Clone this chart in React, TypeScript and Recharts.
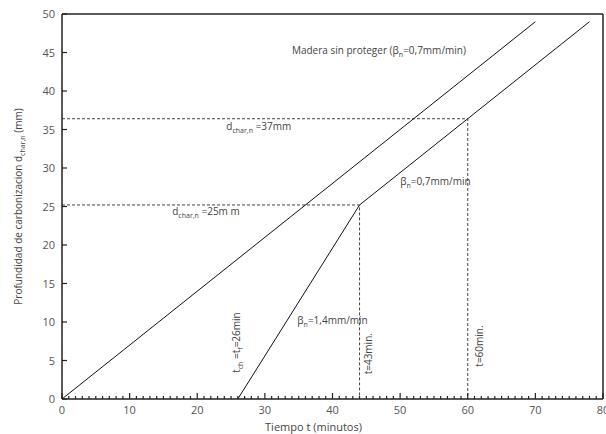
import React from 'react';
import { LineChart, Line, XAxis, YAxis, ReferenceLine, ReferenceDot } from 'recharts';

// charring depth (mm) vs time (min)
const unprotectedWood = [
  { t: 0, d: 0 },
  { t: 70, d: 49 },
];
const protectedWood = [
  { t: 26, d: 0 },
  { t: 44, d: 25.2 },
  { t: 78, d: 49 },
];
const guide25 = [
  { t: 0, d: 25.2 },
  { t: 44, d: 25.2 },
  { t: 44, d: 0 },
];
const guide37 = [
  { t: 0, d: 36.4 },
  { t: 60, d: 36.4 },
  { t: 60, d: 0 },
];

const xMajorTicks = [0, 10, 20, 30, 40, 50, 60, 70, 80];
const xMinorTicks = Array.from({ length: 81 }, (_, i) => i);
const yTicks = [0, 5, 10, 15, 20, 25, 30, 35, 40, 45, 50];

const FONT = '"Open Sans", sans-serif';
const TEXT = '#444';
const AXIS = '#222';

function XTick(props: any) {
  const { x, y, payload } = props;
  const major = xMajorTicks.includes(payload.value);
  return (
    <g>
      <line x1={x} x2={x} y1={y} y2={y - (major ? 6 : 3)} stroke={AXIS} strokeWidth={1.2} />
      {major && (
        <text x={x} y={y + 15} textAnchor="middle" fontFamily={FONT} fontSize={11} fill="#555">
          {payload.value}
        </text>
      )}
    </g>
  );
}

function YTick(props: any) {
  const { x, y, payload } = props;
  return (
    <g>
      <line x1={x} x2={x + 5} y1={y} y2={y} stroke={AXIS} strokeWidth={1.2} />
      <text x={x - 7} y={y + 4} textAnchor="end" fontFamily={FONT} fontSize={11} fill="#555">
        {payload.value}
      </text>
    </g>
  );
}

const sub = (s: string) => [
  <tspan key="a" dy={3} fontSize={7}>{s}</tspan>,
  <tspan key="b" dy={-3}>{' '}</tspan>,
];

const note = (content: React.ReactNode, rotate = false) => (p: any) => {
  const { x, y } = p.viewBox;
  return (
    <text
      x={x}
      y={y}
      fontFamily={FONT}
      fontSize={10}
      fill={TEXT}
      transform={rotate ? `rotate(-90 ${x} ${y})` : undefined}
    >
      {content}
    </text>
  );
};

const notes = [
  {
    t: 34, d: 44.8,
    content: (
      <>
        <tspan>Madera sin proteger (β</tspan>
        <tspan dy={3} fontSize={7}>n</tspan>
        <tspan dy={-3}>=0,7mm/min)</tspan>
      </>
    ),
  },
  {
    t: 24.3, d: 34.9,
    content: (
      <>
        <tspan>d</tspan>
        <tspan dy={3} fontSize={7}>char,n</tspan>
        <tspan dy={-3}>{'  =37mm'}</tspan>
      </>
    ),
  },
  {
    t: 16.3, d: 23.9,
    content: (
      <>
        <tspan>d</tspan>
        <tspan dy={3} fontSize={7}>char,n</tspan>
        <tspan dy={-3}>{'  =25m m'}</tspan>
      </>
    ),
  },
  {
    t: 50, d: 27.8,
    content: (
      <>
        <tspan>β</tspan>
        <tspan dy={3} fontSize={7}>n</tspan>
        <tspan dy={-3}>=0,7mm/min</tspan>
      </>
    ),
  },
  {
    t: 34.8, d: 9.7,
    content: (
      <>
        <tspan>β</tspan>
        <tspan dy={3} fontSize={7}>n</tspan>
        <tspan dy={-3}>=1,4mm/min</tspan>
      </>
    ),
  },
  {
    t: 26.3, d: 3.4, rotate: true,
    content: (
      <>
        <tspan>t</tspan>
        <tspan dy={3} fontSize={7}>ch</tspan>
        <tspan dy={-3}>{' =t'}</tspan>
        <tspan dy={3} fontSize={7}>f</tspan>
        <tspan dy={-3}>=26min</tspan>
      </>
    ),
  },
  { t: 45.9, d: 3.2, rotate: true, content: 't=43min.' },
  { t: 62.3, d: 4.2, rotate: true, content: 't=60min.' },
];

export default function App() {
  return (
    <div style={{ position: 'absolute', left: 0, top: 0 }}>
      <LineChart width={606} height={434} margin={{ top: 14, right: 3, left: 12, bottom: 0 }}>
        <XAxis
          dataKey="t"
          type="number"
          domain={[0, 80]}
          ticks={xMinorTicks}
          interval={0}
          tick={(p: any) => <XTick {...p} />}
          tickLine={false}
          tickSize={0}
          tickMargin={0}
          height={35}
          axisLine={{ stroke: AXIS, strokeWidth: 1.5 }}
          allowDataOverflow
          label={(p: any) => {
            const vb = p.viewBox;
            return (
              <text x={vb.x + vb.width / 2 - 19} y={vb.y + 32} textAnchor="middle" fontFamily={FONT} fontSize={11} fill={TEXT}>
                Tiempo t (minutos)
              </text>
            );
          }}
        />
        <YAxis
          dataKey="d"
          type="number"
          domain={[0, 50]}
          ticks={yTicks}
          interval={0}
          tick={(p: any) => <YTick {...p} />}
          tickLine={false}
          tickSize={0}
          tickMargin={0}
          width={50}
          axisLine={{ stroke: AXIS, strokeWidth: 1.5 }}
          allowDataOverflow
          label={(p: any) => {
            const vb = p.viewBox;
            const x = vb.x + 10;
            const y = vb.y + vb.height / 2;
            return (
              <text x={x} y={y} textAnchor="middle" transform={`rotate(-90 ${x} ${y})`} fontFamily={FONT} fontSize={10} fill={TEXT}>
                <tspan>Profundidad de carbonizacion d</tspan>
                <tspan dy={3} fontSize={7}>char,n</tspan>
                <tspan dy={-3}> (mm)</tspan>
              </text>
            );
          }}
        />
        <ReferenceLine y={50} stroke={AXIS} strokeWidth={1.5} />
        <ReferenceLine x={80} stroke={AXIS} strokeWidth={1.5} />
        <Line data={guide25} dataKey="d" type="linear" stroke="#444" strokeWidth={1} strokeDasharray="3 2" dot={false} isAnimationActive={false} />
        <Line data={guide37} dataKey="d" type="linear" stroke="#444" strokeWidth={1} strokeDasharray="3 2" dot={false} isAnimationActive={false} />
        <Line data={unprotectedWood} dataKey="d" type="linear" stroke="#111" strokeWidth={1} dot={false} isAnimationActive={false} />
        <Line data={protectedWood} dataKey="d" type="linear" stroke="#111" strokeWidth={1} dot={false} isAnimationActive={false} />
        {notes.map((n, i) => (
          <ReferenceDot
            key={i}
            x={n.t}
            y={n.d}
            r={0}
            fill="none"
            stroke="none"
            label={note(n.content, n.rotate)}
          />
        ))}
      </LineChart>
    </div>
  );
}
